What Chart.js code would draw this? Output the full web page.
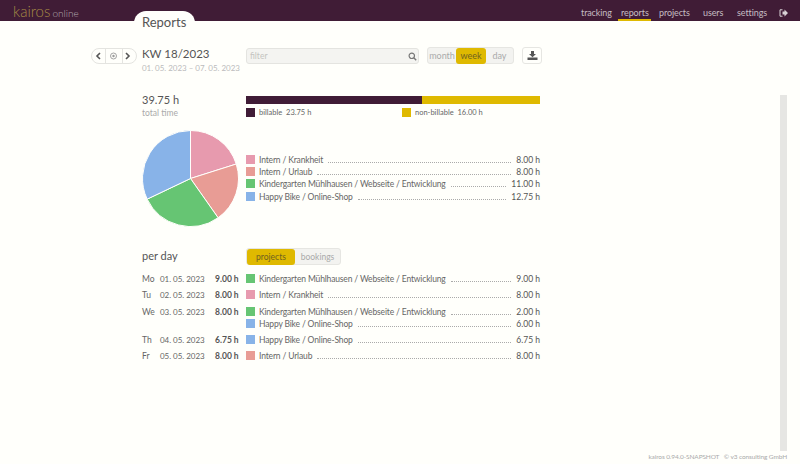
<!DOCTYPE html>
<html>
<head>
<meta charset="utf-8">
<title>kairos online</title>
<script src="https://cdn.jsdelivr.net/npm/chart.js@4"></script>
<style>
html, body { margin: 0; padding: 0; width: 800px; height: 464px; overflow: hidden; background: #fffffb; }
body { font-family: Lato, sans-serif; color: #555; font-size: 10px; position: relative; }
.abs { position: absolute; white-space: nowrap; }
#top { left: 0; top: 0; width: 800px; height: 21px; background: #401c36; }
#tab { left: 134px; top: 11px; width: 61px; height: 14px; background: #fffffb; border-radius: 12px 12px 0 0; }
.nav { top: 7px; font-size: 9px; letter-spacing: -0.1px; color: #c5bcc2; }
.btns { display: flex; box-sizing: border-box; border: 1px solid #e6e6e2; border-radius: 3px; background: #f3f3f0; color: #aaa; align-items: center; }
.btns span { display: block; text-align: center; line-height: 16px; height: 16px; }
.btns .on { background: #dfb900; color: #6f6220; border-radius: 3px; }
.swatch { position: absolute; width: 9px; height: 9px; }
.row { position: absolute; left: 259px; width: 281px; display: flex; align-items: baseline; font-size: 8.5px; letter-spacing: -0.15px; color: #666; height: 12px; line-height: 12px; }
.row .dots { flex: 1; border-bottom: 1px dotted #aaa; margin: 0 5px 0 5px; height: 8px; }
.row .hrs { color: #555; letter-spacing: 0; }
canvas { display: block; }
</style>
</head>
<body>
<div class="abs" id="top"></div>
<div class="abs" id="tab"></div>
<div class="abs" style="left:13px;top:2px;font-size:15px;word-spacing:-2px;color:#a58a45;font-weight:300">kairos <span style="font-size:10px;color:#b3a8ae">online</span></div>
<div class="abs" style="left:142px;top:14px;font-size:13px;color:#555">Reports</div>

<div class="abs nav" style="left:581px">tracking</div>
<div class="abs nav" style="left:621px">reports</div>
<div class="abs" style="left:618px;top:19px;width:33px;height:2px;background:#dfb900"></div>
<div class="abs nav" style="left:659px">projects</div>
<div class="abs nav" style="left:703px">users</div>
<div class="abs nav" style="left:737px">settings</div>
<svg class="abs" style="left:779px;top:9px" width="9" height="8" viewBox="0 0 9 8"><path d="M3.5 0.8H1V7.2H3.5" fill="none" stroke="#d8d2d6" stroke-width="1"/><path d="M3.5 2.6H5.5V0.5L9 4L5.5 7.5V5.4H3.5z" fill="#d8d2d6"/></svg>

<div class="abs" style="left:91px;top:48px;width:44px;height:14px;border:1px solid #e4e4e0;border-radius:8px;display:flex">
  <span style="flex:1;border-right:1px solid #e4e4e0"></span><span style="flex:1.2;border-right:1px solid #e4e4e0"></span><span style="flex:1"></span>
</div>
<svg class="abs" style="left:91px;top:48px" width="46" height="16" viewBox="0 0 46 16"><path d="M9 5L6 8L9 11" fill="none" stroke="#555" stroke-width="1.6"/><circle cx="22.5" cy="8" r="3" fill="none" stroke="#999" stroke-width="0.9"/><circle cx="22.5" cy="8" r="1.2" fill="#999"/><path d="M35 5L38 8L35 11" fill="none" stroke="#555" stroke-width="1.6"/></svg>
<div class="abs" style="left:142px;top:47px;font-size:11.5px;color:#555">KW 18/2023</div>
<div class="abs" style="left:142px;top:63px;font-size:8px;letter-spacing:-0.03px;color:#bbb">01. 05. 2023 – 07. 05. 2023</div>

<div class="abs" style="left:246px;top:48px;width:173px;height:16px;box-sizing:border-box;border:1px solid #e4e4e0;border-radius:3px;background:#f4f4f1;color:#c4c4c0;font-size:8.5px;line-height:14px;padding-left:3px">filter</div>
<svg class="abs" style="left:408px;top:52px" width="9" height="9" viewBox="0 0 9 9"><circle cx="3.8" cy="3.8" r="2.7" fill="none" stroke="#777" stroke-width="1.2"/><line x1="5.8" y1="5.8" x2="8.2" y2="8.2" stroke="#777" stroke-width="1.4"/></svg>

<div class="abs btns" style="left:427px;top:47px;width:87px;height:17px;font-size:9px">
  <span style="width:28px">month</span><span class="on" style="width:30px">week</span><span style="width:27px">day</span>
</div>
<div class="abs" style="left:522px;top:47px;width:20px;height:17px;box-sizing:border-box;border:1px solid #e6e6e2;border-radius:3px"></div>
<svg class="abs" style="left:527px;top:51px" width="11" height="9" viewBox="0 0 11 9"><path d="M4 0h3v3h2L5.5 6.2 2 3h2z M0.5 6.5h10V9h-10z" fill="#555"/></svg>

<div class="abs" style="left:142px;top:93px;font-size:11px;color:#555">39.75 h</div>
<div class="abs" style="left:142px;top:108px;font-size:8.5px;color:#aaa">total time</div>

<div class="abs" style="left:246px;top:96px;width:294px;height:8px"><canvas id="barChart" width="294" height="8"></canvas></div>
<div class="swatch" style="left:246px;top:108px;background:#401c36"></div>
<div class="abs" style="left:259px;top:108px;font-size:7.5px;color:#666">billable &nbsp;23.75 h</div>
<div class="swatch" style="left:402px;top:108px;background:#dfb900"></div>
<div class="abs" style="left:415px;top:108px;font-size:7.5px;color:#666">non-billable &nbsp;16.00 h</div>

<div class="abs" style="left:142px;top:130px;width:97px;height:97px"><canvas id="pieChart" width="97" height="97"></canvas></div>

<div class="abs" style="left:142px;top:249px;font-size:11px;color:#555">per day</div>
<div class="abs btns" style="left:246px;top:248px;width:95px;height:17px;font-size:8.5px">
  <span class="on" style="width:48px">projects</span><span style="width:45px">bookings</span>
</div>

<div class="abs" style="left:780px;top:95px;width:7px;height:356px;background:#e6e6e3"></div>
<div class="abs" style="right:13px;top:453px;font-size:6.5px;letter-spacing:-0.1px;color:#aaa">kairos 0.94.0-SNAPSHOT &nbsp; © v3 consulting GmbH</div>

<div id="rows"></div>

<script>
const projects = ['Intern / Krankheit', 'Intern / Urlaub', 'Kindergarten Mühlhausen / Webseite / Entwicklung', 'Happy Bike / Online-Shop'];
const projectHours = [8.00, 8.00, 11.00, 12.75];
const projectColors = ['#e79aae', '#e89c95', '#66c573', '#88b3e8'];

const billingLabels = ['billable', 'non-billable'];
const billingHours = [23.75, 16.00];
const billingColors = ['#401c36', '#dfb900'];

// day rows: weekday, date, total, project index, hours, y
const dayNames = ['Mo', 'Tu', 'We', '', 'Th', 'Fr'];
const dayDates = ['01. 05. 2023', '02. 05. 2023', '03. 05. 2023', '', '04. 05. 2023', '05. 05. 2023'];
const dayTotals = ['9.00 h', '8.00 h', '8.00 h', '', '6.75 h', '8.00 h'];
const dayProjects = [2, 0, 2, 3, 3, 1];
const dayHours = [9.00, 8.00, 2.00, 6.00, 6.75, 8.00];
const dayTops = [273, 289, 306, 318, 334, 350];
const summaryTops = [154, 166, 178, 191];

function addRow(parent, top, project, hours) {
    const swatch = document.createElement('div');
    swatch.className = 'swatch';
    swatch.style.left = '246px';
    swatch.style.top = (top + 1) + 'px';
    swatch.style.background = projectColors[project];
    parent.appendChild(swatch);

    const row = document.createElement('div');
    row.className = 'row';
    row.style.top = top + 'px';
    row.innerHTML = '<span>' + projects[project] + '</span><span class="dots"></span><span class="hrs">' + hours.toFixed(2) + ' h</span>';
    parent.appendChild(row);
}

function addText(parent, left, top, text, extra) {
    const el = document.createElement('div');
    el.className = 'abs';
    el.style.cssText = 'left:' + left + 'px;top:' + top + 'px;font-size:8.5px;line-height:12px;color:#666;' + (extra || '');
    el.textContent = text;
    parent.appendChild(el);
}

const rows = document.getElementById('rows');
projects.forEach((p, i) => addRow(rows, summaryTops[i], i, projectHours[i]));
dayProjects.forEach((p, i) => {
    addRow(rows, dayTops[i], p, dayHours[i]);
    addText(rows, 142, dayTops[i], dayNames[i]);
    addText(rows, 160, dayTops[i], dayDates[i], 'font-size:8px;letter-spacing:-0.03px;');
    addText(rows, 215, dayTops[i], dayTotals[i], 'font-weight:bold;color:#555;');
});

new Chart(document.getElementById('barChart').getContext('2d'), {
    type: 'bar',
    data: {
        labels: ['total'],
        datasets: billingLabels.map((label, i) => ({
            label: label,
            data: [billingHours[i]],
            backgroundColor: billingColors[i],
            barPercentage: 1,
            categoryPercentage: 1
        }))
    },
    options: {
        indexAxis: 'y',
        responsive: false,
        animation: false,
        layout: { padding: 0 },
        plugins: { legend: { display: false }, tooltip: { enabled: false } },
        scales: {
            x: { stacked: true, display: false, min: 0, max: 39.75 },
            y: { stacked: true, display: false }
        }
    }
});

new Chart(document.getElementById('pieChart').getContext('2d'), {
    type: 'pie',
    data: {
        labels: projects,
        datasets: [{
            data: projectHours,
            backgroundColor: projectColors,
            borderColor: '#fffffb',
            borderWidth: 1
        }]
    },
    options: {
        responsive: false,
        animation: false,
        layout: { padding: 0 },
        plugins: { legend: { display: false }, tooltip: { enabled: false } }
    }
});
</script>
</body>
</html>
